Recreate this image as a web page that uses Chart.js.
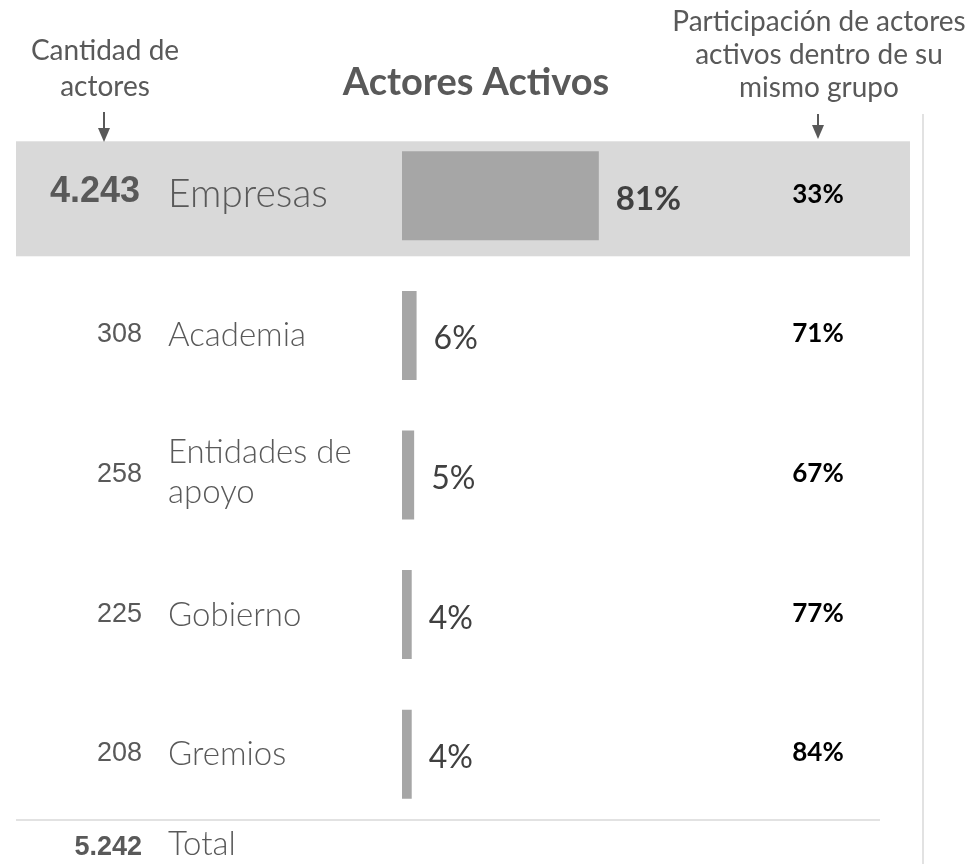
<!DOCTYPE html>
<html>
<head>
<meta charset="utf-8">
<title>Actores Activos</title>
<script src="https://cdn.jsdelivr.net/npm/chart.js@4/dist/chart.umd.min.js"></script>
<style>
  html, body { margin: 0; padding: 0; background: #fff; }
  canvas { display: block; }
</style>
</head>
<body>
<canvas id="chart" width="978" height="864"></canvas>
<script>
// Actores activos por grupo: cantidad, participación en el total y dentro del grupo.
const categories = ['Empresas', 'Academia', ['Entidades de', 'apoyo'], 'Gobierno', 'Gremios'];
const actorCounts = [4243, 308, 258, 225, 208];
const shareOfTotal = [81, 6, 5, 4, 4];
const shareInGroup = [33, 71, 67, 77, 84];
const totalActors = 5242;

const GREY_TEXT = '#595959';
const DARK_TEXT = '#404040';
const BAR = '#a6a6a6';
const BAND = '#d9d9d9';
const RULE = '#d9d9d9';
const SANS = 'Lato, "Open Sans", sans-serif';
const ARIAL = '"Liberation Sans", Arial, sans-serif';

const fmt = (n) => String(n).replace(/\B(?=(\d{3})+(?!\d))/g, '.');

function arrow(ctx, x, y0, y1) {
  ctx.strokeStyle = GREY_TEXT;
  ctx.fillStyle = GREY_TEXT;
  ctx.lineWidth = 2;
  ctx.beginPath();
  ctx.moveTo(x, y0);
  ctx.lineTo(x, y1 - 12);
  ctx.stroke();
  ctx.beginPath();
  ctx.moveTo(x - 6, y1 - 14);
  ctx.lineTo(x + 6, y1 - 14);
  ctx.lineTo(x, y1);
  ctx.closePath();
  ctx.fill();
}

const tablePlugin = {
  id: 'actorsTable',
  beforeDatasetsDraw(chart) {
    const { ctx } = chart;
    const first = chart.getDatasetMeta(0).data[0];
    ctx.save();
    // highlighted row behind the first category
    ctx.fillStyle = BAND;
    ctx.fillRect(16, first.y - 54.5, 894, 115);
    ctx.restore();
  },
  afterDatasetsDraw(chart) {
    const { ctx } = chart;
    const bars = chart.getDatasetMeta(0).data;
    ctx.save();

    // headers
    ctx.fillStyle = GREY_TEXT;
    ctx.textAlign = 'center';
    ctx.textBaseline = 'alphabetic';
    ctx.font = 'bold 38px ' + SANS;
    ctx.fillText('Actores Activos', 476, 95);
    ctx.font = '28px ' + SANS;
    ctx.fillText('Cantidad de', 105, 60);
    ctx.fillText('actores', 105, 96);
    ctx.fillText('Participación de actores', 819, 31);
    ctx.fillText('activos dentro de su', 819, 64);
    ctx.fillText('mismo grupo', 819, 97);
    arrow(ctx, 104, 112, 142);
    arrow(ctx, 818, 114, 139);

    // side rules
    ctx.strokeStyle = RULE;
    ctx.lineWidth = 1.5;
    ctx.beginPath();
    ctx.moveTo(923, 114);
    ctx.lineTo(923, 864);
    ctx.moveTo(16, 820);
    ctx.lineTo(880, 820);
    ctx.stroke();

    bars.forEach((bar, i) => {
      const y = bar.y;
      const main = i === 0;

      ctx.fillStyle = GREY_TEXT;
      ctx.textAlign = 'right';
      ctx.font = (main ? 'bold 36px ' : '27px ') + ARIAL;
      ctx.fillText(fmt(actorCounts[i]), main ? 140 : 142, y + (main ? 6 : 7));

      ctx.textAlign = 'left';
      ctx.font = (main ? '300 39px ' : '300 33px ') + SANS;
      const label = categories[i];
      if (Array.isArray(label)) {
        ctx.fillText(label[0], 168, y - 12);
        ctx.fillText(label[1], 168, y + 28);
      } else {
        ctx.fillText(label, 168, y + 11);
      }

      ctx.fillStyle = DARK_TEXT;
      ctx.font = (main ? 'bold 33px ' : '32px ') + SANS;
      ctx.fillText(shareOfTotal[i] + '%', bar.x + 17, y + 14);

      ctx.fillStyle = '#000';
      ctx.textAlign = 'center';
      ctx.font = 'bold 26px ' + SANS;
      ctx.fillText(shareInGroup[i] + '%', 818, y + 7);
    });

    // total row
    ctx.fillStyle = GREY_TEXT;
    ctx.textAlign = 'right';
    ctx.font = 'bold 27px ' + ARIAL;
    ctx.fillText(fmt(totalActors), 142, 855);
    ctx.textAlign = 'left';
    ctx.font = '300 33px ' + SANS;
    ctx.fillText('Total', 168, 855);

    ctx.restore();
  },
};

new Chart(document.getElementById('chart'), {
  type: 'bar',
  data: {
    labels: categories,
    datasets: [{
      data: shareOfTotal,
      backgroundColor: BAR,
      borderWidth: 0,
      barPercentage: 0.6375,
      categoryPercentage: 1,
    }],
  },
  options: {
    indexAxis: 'y',
    responsive: false,
    animation: false,
    layout: { padding: { left: 402, right: 333, top: 126, bottom: 40 } },
    plugins: {
      legend: { display: false },
      tooltip: { enabled: false },
    },
    scales: {
      x: { display: false, min: 0, max: 100 },
      y: { display: false },
    },
  },
  plugins: [tablePlugin],
});
</script>
</body>
</html>
